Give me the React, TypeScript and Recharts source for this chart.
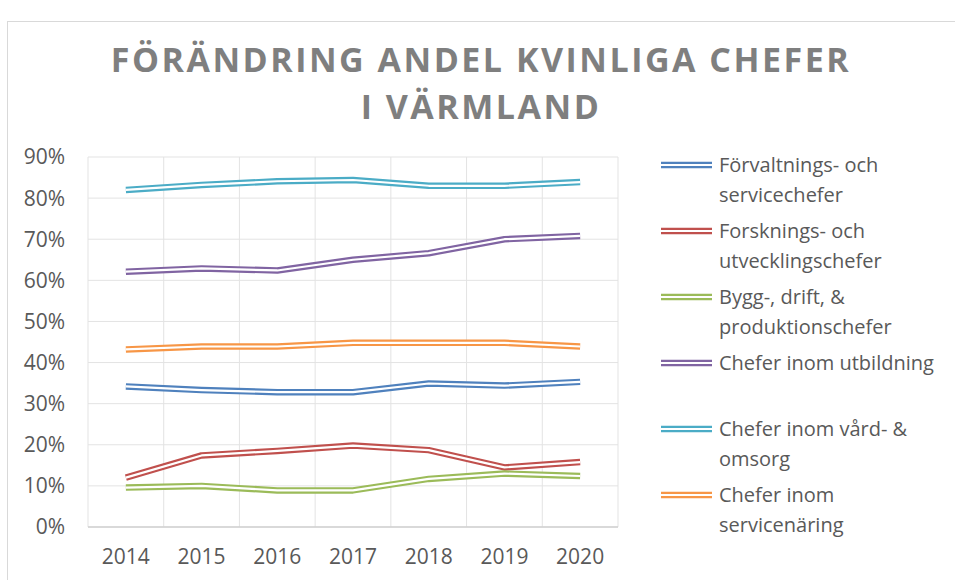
import React from 'react';
import { LineChart, Line, XAxis, YAxis, CartesianGrid, Legend } from 'recharts';

const years = ['2014', '2015', '2016', '2017', '2018', '2019', '2020'];
const forvaltning = [34.2, 33.3, 32.8, 32.8, 34.9, 34.4, 35.3];
const forskning = [12.0, 17.4, 18.5, 19.8, 18.7, 14.5, 15.8];
const bygg = [9.6, 10.0, 8.9, 8.9, 11.7, 13.0, 12.4];
const utbildning = [62.1, 62.9, 62.4, 65.0, 66.6, 70.0, 70.8];
const vard = [82.0, 83.2, 84.1, 84.4, 83.0, 83.0, 83.9];
const servicenaring = [43.2, 43.9, 43.9, 44.8, 44.8, 44.8, 43.9];
const yTicks = [0, 10, 20, 30, 40, 50, 60, 70, 80, 90];

const seriesNames = [
  'Förvaltnings- och servicechefer',
  'Forsknings- och utvecklingschefer',
  'Bygg-, drift, & produktionschefer',
  'Chefer inom utbildning',
  'Chefer inom vård- & omsorg',
  'Chefer inom servicenäring',
];
const seriesKeys = ['forvaltning', 'forskning', 'bygg', 'utbildning', 'vard', 'servicenaring'];
const seriesColors = ['#4F81BD', '#C0504D', '#9BBB59', '#8064A2', '#4BACC6', '#F79646'];
const seriesValues = [forvaltning, forskning, bygg, utbildning, vard, servicenaring];

const data = years.map((year, i) => {
  const row: Record<string, string | number> = { year };
  seriesKeys.forEach((k, s) => {
    row[k] = seriesValues[s][i];
  });
  return row;
});

const FONT = '"Open Sans", "Noto Sans", sans-serif';

const renderLegend = (props: any) => {
  const payload = (props.payload || [])
    .filter((p: any) => p.type !== 'none' && seriesNames.indexOf(p.value) >= 0)
    .slice()
    .sort((a: any, b: any) => seriesNames.indexOf(a.value) - seriesNames.indexOf(b.value));
  return (
    <div style={{ position: 'relative', width: 295, height: 400, fontFamily: FONT }}>
      {payload.map((p: any, i: number) => (
        <div
          key={i}
          style={{ position: 'absolute', left: 0, top: i * 66, display: 'flex', alignItems: 'flex-start' }}
        >
          <svg width={52} height={30} style={{ flex: '0 0 auto' }}>
            <line x1={1} x2={52} y1={15} y2={15} stroke={p.color} strokeWidth={6.5} />
            <line x1={1} x2={52} y1={15} y2={15} stroke="#fff" strokeWidth={2.2} />
          </svg>
          <div
            style={{
              marginLeft: 7,
              maxWidth: 232,
              fontSize: 20,
              lineHeight: '29.5px',
              color: '#595959',
            }}
          >
            {p.value}
          </div>
        </div>
      ))}
    </div>
  );
};

const verticalGen = (props: any) => {
  const off = props.offset;
  const n = years.length;
  const out: number[] = [];
  for (let i = 0; i <= n; i++) out.push(off.left + (i * off.width) / n);
  return out;
};

export default function App() {
  return (
    <div
      style={{
        position: 'absolute',
        left: 0,
        top: 0,
        width: 955,
        height: 580,
        overflow: 'hidden',
        background: '#fff',
        fontFamily: FONT,
      }}
    >
      <div
        style={{
          position: 'absolute',
          left: 7,
          top: 21,
          width: 1000,
          height: 700,
          border: '1px solid #d9d9d9',
        }}
      />
      <div
        style={{
          position: 'absolute',
          left: 0,
          top: 36,
          width: 962,
          textAlign: 'center',
          fontSize: 34,
          fontWeight: 700,
          letterSpacing: 2.5,
          lineHeight: '46.7px',
          color: '#7f7f7f',
          fontFamily: FONT,
        }}
      >
        FÖRÄNDRING ANDEL KVINLIGA CHEFER
        <br />I VÄRMLAND
      </div>
      <div style={{ position: 'absolute', left: 0, top: 0 }}>
        <LineChart
          width={955}
          height={580}
          data={data}
          margin={{ top: 157, right: 42, bottom: 0, left: 8 }}
        >
          <CartesianGrid
            stroke="#e3e3e3"
            strokeWidth={1}
            verticalCoordinatesGenerator={verticalGen}
          />
          <XAxis
            dataKey="year"
            height={53}
            padding={{ left: 37.86, right: 37.86 }}
            axisLine={{ stroke: '#d0d0d0', strokeWidth: 1.5 }}
            tickLine={false}
            tickSize={0}
            tickMargin={22}
            tick={{ fill: '#595959', fontSize: 21, fontFamily: FONT }}
            interval={0}
          />
          <YAxis
            width={80}
            domain={[0, 90]}
            ticks={yTicks}
            tickFormatter={(v: number) => `${v}%`}
            axisLine={false}
            tickLine={false}
            tickSize={0}
            tickMargin={23}
            tick={{ fill: '#595959', fontSize: 21, fontFamily: FONT }}
            interval={0}
          />
          <Legend
            layout="vertical"
            align="right"
            verticalAlign="top"
            content={renderLegend}
            wrapperStyle={{ left: 660, top: 150, width: 295, height: 400, right: 'auto' }}
          />
          {seriesKeys.flatMap((k, s) => [
            <Line
              key={k + '-c'}
              type="linear"
              dataKey={k}
              name={seriesNames[s]}
              stroke={seriesColors[s]}
              strokeWidth={6.5}
              strokeLinejoin="round"
              dot={false}
              activeDot={false}
              isAnimationActive={false}
            />,
            <Line
              key={k + '-w'}
              type="linear"
              dataKey={k}
              name={k + '-inner'}
              stroke="#ffffff"
              strokeWidth={2.2}
              strokeLinejoin="round"
              dot={false}
              activeDot={false}
              legendType="none"
              isAnimationActive={false}
            />,
          ])}
        </LineChart>
      </div>
    </div>
  );
}
